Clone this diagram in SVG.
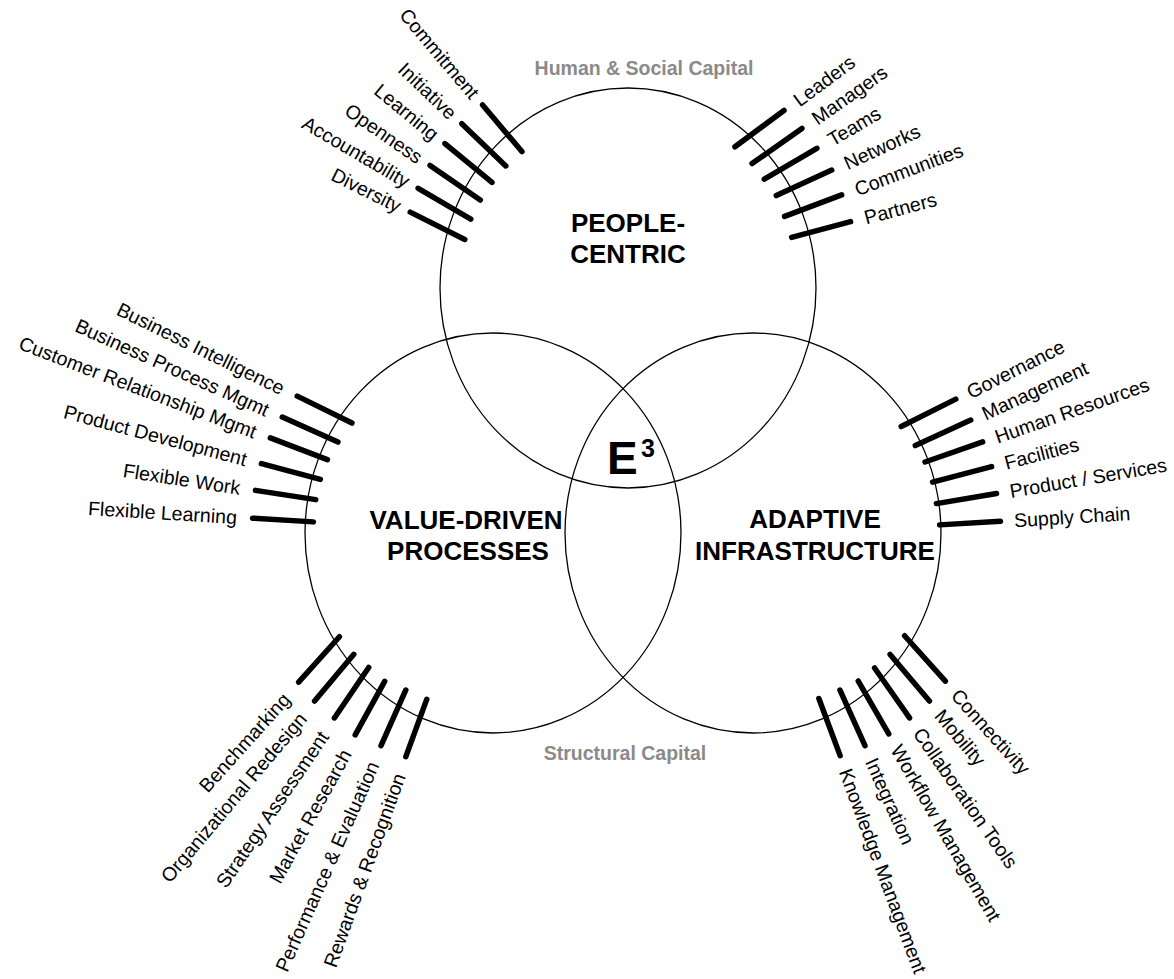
<svg xmlns="http://www.w3.org/2000/svg" width="1174" height="979" viewBox="0 0 1174 979">
  <style>
    .ring { fill: none; stroke: #000; stroke-width: 1.3; }
    .tick { stroke: #000; stroke-width: 5.5; stroke-linecap: round; }
    .lbl { font-family: "Liberation Sans", Arial, sans-serif; font-size: 19.6px; fill: #000; }
    .end { text-anchor: end; }
    .start { text-anchor: start; }
    .title { font-family: "Liberation Sans", Arial, sans-serif; font-size: 26px; font-weight: bold; fill: #000; text-anchor: middle; }
    .capital { font-family: "Liberation Sans", Arial, sans-serif; font-size: 19.5px; font-weight: bold; fill: #8a8a8a; text-anchor: middle; }
  </style>
  <rect width="1174" height="979" fill="#fff"/>

  <!-- capital headings -->
  <text class="capital" x="644" y="75">Human &amp; Social Capital</text>
  <text class="capital" x="625" y="760">Structural Capital</text>

  <!-- PEOPLE-CENTRIC -->
  <g id="people-centric">
    <ellipse class="ring" cx="628" cy="288" rx="188" ry="200"/>
    <text class="title" x="628" y="232">PEOPLE-</text>
    <text class="title" x="628" y="263">CENTRIC</text>
  </g>

  <!-- VALUE-DRIVEN PROCESSES -->
  <g id="value-driven-processes">
    <ellipse class="ring" cx="493" cy="533" rx="188" ry="200"/>
    <text class="title" x="466" y="529">VALUE-DRIVEN</text>
    <text class="title" x="468" y="560">PROCESSES</text>
  </g>

  <!-- ADAPTIVE INFRASTRUCTURE -->
  <g id="adaptive-infrastructure">
    <ellipse class="ring" cx="753" cy="533" rx="188" ry="200"/>
    <text class="title" x="815" y="528">ADAPTIVE</text>
    <text class="title" x="815" y="560">INFRASTRUCTURE</text>
  </g>

  <!-- centre overlap -->
  <g id="e3">
    <text x="607" y="474" font-family="'Liberation Sans', Arial, sans-serif" font-size="46" font-weight="bold">E</text>
    <text x="641" y="457" font-family="'Liberation Sans', Arial, sans-serif" font-size="25" font-weight="bold">3</text>
  </g>

  <!-- attribute ticks: each group sits at the outer end of its tick, x axis along the reading direction -->
  <g id="connectors">
    <!-- people: values (upper left) -->
    <g id="t-commitment" transform="translate(481,103) rotate(49.9)"><line class="tick" x1="2.5" y1="0" x2="63.5" y2="0"/><text class="lbl end" x="-9" dy="0.35em">Commitment</text></g>
    <g id="t-initiative" transform="translate(460,122) rotate(43.8)"><line class="tick" x1="2.5" y1="0" x2="63.5" y2="0"/><text class="lbl end" x="-9" dy="0.35em">Initiative</text></g>
    <g id="t-learning" transform="translate(443,142) rotate(39.5)"><line class="tick" x1="2.5" y1="0" x2="63.5" y2="0"/><text class="lbl end" x="-9" dy="0.35em">Learning</text></g>
    <g id="t-openness" transform="translate(428,164) rotate(34.6)"><line class="tick" x1="2.5" y1="0" x2="63.5" y2="0"/><text class="lbl end" x="-9" dy="0.35em">Openness</text></g>
    <g id="t-accountability" transform="translate(416,187) rotate(30.4)"><line class="tick" x1="2.5" y1="0" x2="63.5" y2="0"/><text class="lbl end" x="-9" dy="0.35em">Accountability</text></g>
    <g id="t-diversity" transform="translate(408,211) rotate(26.6)"><line class="tick" x1="2.5" y1="0" x2="63.5" y2="0"/><text class="lbl end" x="-9" dy="0.35em">Diversity</text></g>

    <!-- people: roles (upper right) -->
    <g id="t-leaders" transform="translate(786,109) rotate(-36.5)"><line class="tick" x1="-63.5" y1="0" x2="-2.5" y2="0"/><text class="lbl start" x="12" dy="0.35em">Leaders</text></g>
    <g id="t-managers" transform="translate(804,127) rotate(-35.1)"><line class="tick" x1="-63.5" y1="0" x2="-2.5" y2="0"/><text class="lbl start" x="12" dy="0.35em">Managers</text></g>
    <g id="t-teams" transform="translate(819,147) rotate(-30.5)"><line class="tick" x1="-63.5" y1="0" x2="-2.5" y2="0"/><text class="lbl start" x="12" dy="0.35em">Teams</text></g>
    <g id="t-networks" transform="translate(834,169) rotate(-24.7)"><line class="tick" x1="-63.5" y1="0" x2="-2.5" y2="0"/><text class="lbl start" x="12" dy="0.35em">Networks</text></g>
    <g id="t-communities" transform="translate(844,194) rotate(-20.7)"><line class="tick" x1="-63.5" y1="0" x2="-2.5" y2="0"/><text class="lbl start" x="12" dy="0.35em">Communities</text></g>
    <g id="t-partners" transform="translate(853,221) rotate(-14.9)"><line class="tick" x1="-63.5" y1="0" x2="-2.5" y2="0"/><text class="lbl start" x="12" dy="0.35em">Partners</text></g>

    <!-- processes: systems (left) -->
    <g id="t-business-intelligence" transform="translate(295,395) rotate(26.2)"><line class="tick" x1="2.5" y1="0" x2="63.5" y2="0"/><text class="lbl end" x="-13" dy="0.35em">Business Intelligence</text></g>
    <g id="t-business-process" transform="translate(280,416) rotate(24.2)"><line class="tick" x1="2.5" y1="0" x2="63.5" y2="0"/><text class="lbl end" x="-13" dy="0.35em">Business Process Mgmt</text></g>
    <g id="t-customer-relationship" transform="translate(268,437) rotate(20.9)"><line class="tick" x1="2.5" y1="0" x2="63.5" y2="0"/><text class="lbl end" x="-13" dy="0.35em">Customer Relationship Mgmt</text></g>
    <g id="t-product-development" transform="translate(259,463) rotate(14.9)"><line class="tick" x1="2.5" y1="0" x2="63.5" y2="0"/><text class="lbl end" x="-13" dy="0.35em">Product Development</text></g>
    <g id="t-flexible-work" transform="translate(253,490) rotate(8.7)"><line class="tick" x1="2.5" y1="0" x2="63.5" y2="0"/><text class="lbl end" x="-13" dy="0.35em">Flexible Work</text></g>
    <g id="t-flexible-learning" transform="translate(250,518) rotate(3.5)"><line class="tick" x1="2.5" y1="0" x2="63.5" y2="0"/><text class="lbl end" x="-13" dy="0.35em">Flexible Learning</text></g>

    <!-- infrastructure: functions (right) -->
    <g id="t-governance" transform="translate(958,398) rotate(-26.6)"><line class="tick" x1="-63.5" y1="0" x2="-2.5" y2="0"/><text class="lbl start" x="11" dy="0.35em">Governance</text></g>
    <g id="t-management" transform="translate(973,419) rotate(-24.7)"><line class="tick" x1="-63.5" y1="0" x2="-2.5" y2="0"/><text class="lbl start" x="11" dy="0.35em">Management</text></g>
    <g id="t-human-resources" transform="translate(985,441) rotate(-19.3)"><line class="tick" x1="-63.5" y1="0" x2="-2.5" y2="0"/><text class="lbl start" x="11" dy="0.35em">Human Resources</text></g>
    <g id="t-facilities" transform="translate(994,466) rotate(-14.7)"><line class="tick" x1="-63.5" y1="0" x2="-2.5" y2="0"/><text class="lbl start" x="11" dy="0.35em">Facilities</text></g>
    <g id="t-product-services" transform="translate(999,493) rotate(-9.6)"><line class="tick" x1="-63.5" y1="0" x2="-2.5" y2="0"/><text class="lbl start" x="11" dy="0.35em">Product / Services</text></g>
    <g id="t-supply-chain" transform="translate(1003,521) rotate(-3.5)"><line class="tick" x1="-63.5" y1="0" x2="-2.5" y2="0"/><text class="lbl start" x="11" dy="0.35em">Supply Chain</text></g>

    <!-- processes: practices (lower left) -->
    <g id="t-benchmarking" transform="translate(297,684) rotate(-48.1)"><line class="tick" x1="2.5" y1="0" x2="63.5" y2="0"/><text class="lbl end" x="-16" dy="0.35em">Benchmarking</text></g>
    <g id="t-organizational-redesign" transform="translate(313,703) rotate(-50)"><line class="tick" x1="2.5" y1="0" x2="63.5" y2="0"/><text class="lbl end" x="-16" dy="0.35em">Organizational Redesign</text></g>
    <g id="t-strategy-assessment" transform="translate(333,720) rotate(-55.8)"><line class="tick" x1="2.5" y1="0" x2="63.5" y2="0"/><text class="lbl end" x="-16" dy="0.35em">Strategy Assessment</text></g>
    <g id="t-market-research" transform="translate(354,737) rotate(-61.1)"><line class="tick" x1="2.5" y1="0" x2="63.5" y2="0"/><text class="lbl end" x="-16" dy="0.35em">Market Research</text></g>
    <g id="t-performance-evaluation" transform="translate(380,748) rotate(-66)"><line class="tick" x1="2.5" y1="0" x2="63.5" y2="0"/><text class="lbl end" x="-16" dy="0.35em">Performance &amp; Evaluation</text></g>
    <g id="t-rewards-recognition" transform="translate(405,759) rotate(-70)"><line class="tick" x1="2.5" y1="0" x2="63.5" y2="0"/><text class="lbl end" x="-16" dy="0.35em">Rewards &amp; Recognition</text></g>

    <!-- infrastructure: technologies (lower right) -->
    <g id="t-connectivity" transform="translate(947,683) rotate(48.1)"><line class="tick" x1="-63.5" y1="0" x2="-2.5" y2="0"/><text class="lbl start" x="12" dy="0.35em">Connectivity</text></g>
    <g id="t-mobility" transform="translate(931,703) rotate(49.9)"><line class="tick" x1="-63.5" y1="0" x2="-2.5" y2="0"/><text class="lbl start" x="12" dy="0.35em">Mobility</text></g>
    <g id="t-collaboration-tools" transform="translate(911,720) rotate(55)"><line class="tick" x1="-63.5" y1="0" x2="-2.5" y2="0"/><text class="lbl start" x="12" dy="0.35em">Collaboration Tools</text></g>
    <g id="t-workflow-management" transform="translate(890,736) rotate(60)"><line class="tick" x1="-63.5" y1="0" x2="-2.5" y2="0"/><text class="lbl start" x="12" dy="0.35em">Workflow Management</text></g>
    <g id="t-integration" transform="translate(866,748) rotate(65.8)"><line class="tick" x1="-63.5" y1="0" x2="-2.5" y2="0"/><text class="lbl start" x="12" dy="0.35em">Integration</text></g>
    <g id="t-knowledge-management" transform="translate(841,758) rotate(69.6)"><line class="tick" x1="-63.5" y1="0" x2="-2.5" y2="0"/><text class="lbl start" x="12" dy="0.35em">Knowledge Management</text></g>
  </g>
</svg>
